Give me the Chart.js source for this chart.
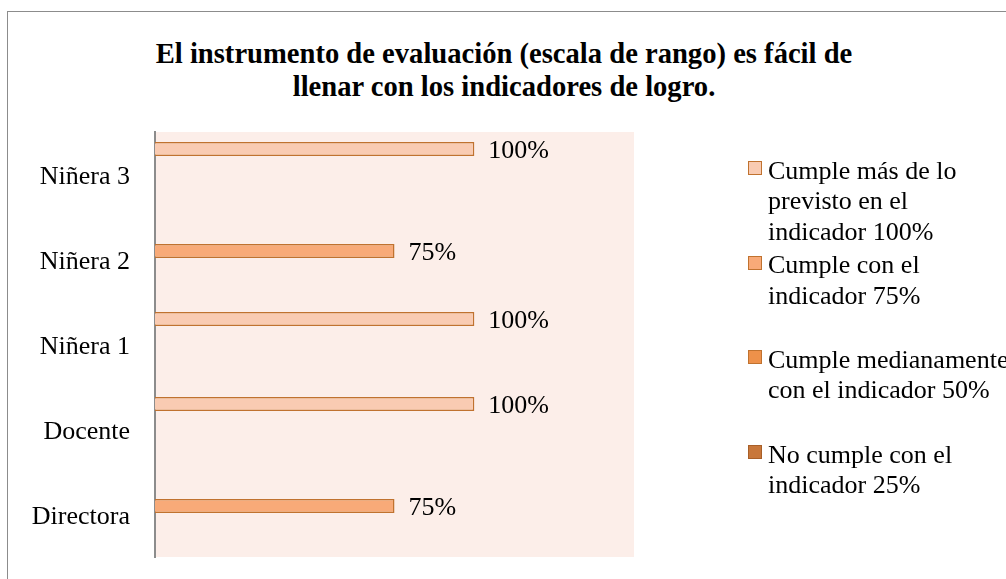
<!DOCTYPE html>
<html>
<head>
<meta charset="utf-8">
<script src="https://cdn.jsdelivr.net/npm/chart.js@4.4.1/dist/chart.umd.min.js"></script>
<style>
html, body { margin: 0; padding: 0; background: #fff; overflow: hidden; width: 1006px; height: 579px; }
#frame { position: absolute; left: 7px; top: 11px; width: 1100px; height: 700px; border: 1px solid #8c8c8c; }
#title { position: absolute; left: 0; top: 37px; width: 1008px; text-align: center; font-family: "Liberation Serif", "Times New Roman", serif; font-weight: bold; font-size: 28.6px; line-height: 33px; color: #000; }
#legend { position: absolute; left: 748px; top: 155.5px; font-family: "Liberation Serif", "Times New Roman", serif; font-size: 26px; line-height: 30.5px; color: #000; }
.item { position: relative; height: 94.7px; white-space: nowrap; }
.box { position: absolute; left: 0; top: 5.5px; width: 12px; height: 12px; border: 1px solid #b8662c; }
.txt { position: absolute; left: 20px; top: 0; }
canvas { position: absolute; left: 0; top: 0; }
</style>
</head>
<body>
<div id="frame"></div>
<div id="title"></div>
<canvas id="chart" width="1006" height="579"></canvas>
<div id="legend"></div>
<script>
// chart data
var titleLines = ['El instrumento de evaluación (escala de rango) es fácil de', 'llenar con los indicadores de logro.'];
var categories = ['Niñera 3', 'Niñera 2', 'Niñera 1', 'Docente', 'Directora'];
var seriesNames = [
    ['Cumple más de lo', 'previsto en el', 'indicador 100%'],
    ['Cumple con el', 'indicador 75%'],
    ['Cumple medianamente', 'con el indicador 50%'],
    ['No cumple con el', 'indicador 25%']
];
var cumpleMas = [100, 0, 100, 100, 0];
var cumple = [0, 75, 0, 0, 75];
var medianamente = [0, 0, 0, 0, 0];
var noCumple = [0, 0, 0, 0, 0];

var colors = ['#F9CBB2', '#F8AA78', '#EE914A', '#C8773A'];
var borders = ['#C0722F', '#C0722F', '#C0722F', '#A85F28'];

document.getElementById('title').innerHTML = titleLines.join('<br>');

// light background behind the bars
var plotBg = {
    id: 'plotBg',
    beforeDraw: function(chart) {
        var a = chart.chartArea;
        chart.ctx.save();
        chart.ctx.fillStyle = '#FCEEE9';
        chart.ctx.fillRect(a.left, a.top, a.right - a.left, a.bottom - a.top);
        chart.ctx.restore();
    }
};

// percentage text after each bar
var barLabels = {
    id: 'barLabels',
    afterDatasetsDraw: function(chart) {
        var ctx = chart.ctx;
        ctx.save();
        ctx.font = '26px "Liberation Serif"';
        ctx.fillStyle = '#000';
        ctx.textBaseline = 'middle';
        chart.data.datasets.forEach(function(ds, i) {
            chart.getDatasetMeta(i).data.forEach(function(bar, j) {
                if (ds.data[j] > 0) {
                    ctx.fillText(ds.data[j] + '%', bar.x + 14, bar.y + 2);
                }
            });
        });
        ctx.restore();
    }
};

var values = [cumpleMas, cumple, medianamente, noCumple];
var datasets = [];
for (var i = 0; i < values.length; i++) {
    datasets.push({
        label: seriesNames[i].join(' '),
        data: values[i],
        backgroundColor: colors[i],
        borderColor: borders[i],
        borderWidth: 1.5,
        categoryPercentage: 0.8,
        barPercentage: 0.82
    });
}

var ctx = document.getElementById('chart').getContext('2d');
var chart = new Chart(ctx, {
    type: 'bar',
    data: {
        labels: categories,
        datasets: datasets
    },
    options: {
        indexAxis: 'y',
        responsive: false,
        animation: false,
        layout: { padding: { left: 0, right: 372, top: 132, bottom: 22 } },
        plugins: {
            legend: { display: false },
            title: { display: false },
            tooltip: { enabled: false }
        },
        scales: {
            x: { display: false, min: 0, max: 150 },
            y: {
                // invisible tick marks give the gap between labels and axis
                grid: { display: true, drawOnChartArea: false, drawTicks: true, tickLength: 25, color: 'rgba(0,0,0,0)' },
                border: { display: true, color: '#8c8c8c', width: 2 },
                ticks: { color: '#000', font: { family: 'Liberation Serif', size: 26 }, padding: 0, labelOffset: 3 },
                afterFit: function(scale) { scale.width = 155; }
            }
        }
    },
    plugins: [plotBg, barLabels]
});

// legend built from the same series
var legend = document.getElementById('legend');
for (var k = 0; k < seriesNames.length; k++) {
    var item = document.createElement('div');
    item.className = 'item';
    item.innerHTML = '<div class="box" style="background:' + colors[k] + ';border-color:' + borders[k] + '"></div>' +
        '<div class="txt">' + seriesNames[k].join('<br>') + '</div>';
    legend.appendChild(item);
}
</script>
</body>
</html>
